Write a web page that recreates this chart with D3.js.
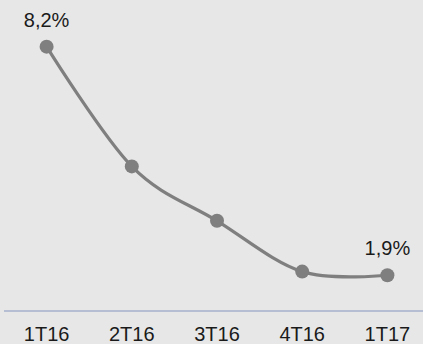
<!DOCTYPE html>
<html>
<head>
<meta charset="utf-8">
<script src="https://cdn.jsdelivr.net/npm/d3@7"></script>
<style>
  html, body { margin: 0; padding: 0; background: #e7e7e7; }
  svg { display: block; }
  text { font-family: "Liberation Sans", Arial, sans-serif; fill: #1a1a1a; }
</style>
</head>
<body>
<svg id="chart" width="423" height="344"></svg>
<script>
// Quarterly rate, in percent
const quarters = ["1T16", "2T16", "3T16", "4T16", "1T17"];
const rates = [8.2, 4.9, 3.4, 2.0, 1.9];
// Only the first and last points carry a value label
const labelledIndex = [0, 4];

const width = 423, height = 344;
const svg = d3.select("#chart");

svg.append("rect")
  .attr("width", width).attr("height", height)
  .attr("fill", "#e7e7e7");

const x = d3.scalePoint()
  .domain(quarters)
  .range([46.6, 387.4]);

const y = d3.scaleLinear()
  .domain([0, 9])
  .range([344.2, 17.6]);

const axisY = 311;

// Category axis baseline
svg.append("line")
  .attr("x1", 4).attr("x2", width)
  .attr("y1", axisY).attr("y2", axisY)
  .attr("stroke", "#a4b0cc")
  .attr("stroke-width", 1.5);

// Category labels
svg.append("g")
  .selectAll("text")
  .data(quarters)
  .join("text")
  .attr("x", d => x(d))
  .attr("y", 340.5)
  .attr("text-anchor", "middle")
  .attr("font-size", 20)
  .text(d => d);

const data = quarters.map((q, i) => ({ q, v: rates[i] }));

// Smoothed line
const line = d3.line()
  .x(d => x(d.q))
  .y(d => y(d.v))
  .curve(d3.curveCardinal.tension(0));

svg.append("path")
  .datum(data)
  .attr("d", line)
  .attr("fill", "none")
  .attr("stroke", "#7f7f7f")
  .attr("stroke-width", 3.2);

// Markers
svg.append("g")
  .selectAll("circle")
  .data(data)
  .join("circle")
  .attr("cx", d => x(d.q))
  .attr("cy", d => y(d.v))
  .attr("r", 7)
  .attr("fill", "#7f7f7f");

// Value labels
const fmt = v => v.toFixed(1).replace(".", ",") + "%";
svg.append("g")
  .selectAll("text")
  .data(labelledIndex.map(i => data[i]))
  .join("text")
  .attr("x", d => x(d.q))
  .attr("y", d => y(d.v) - 20)
  .attr("text-anchor", "middle")
  .attr("font-size", 20)
  .text(d => fmt(d.v));
</script>
</body>
</html>
